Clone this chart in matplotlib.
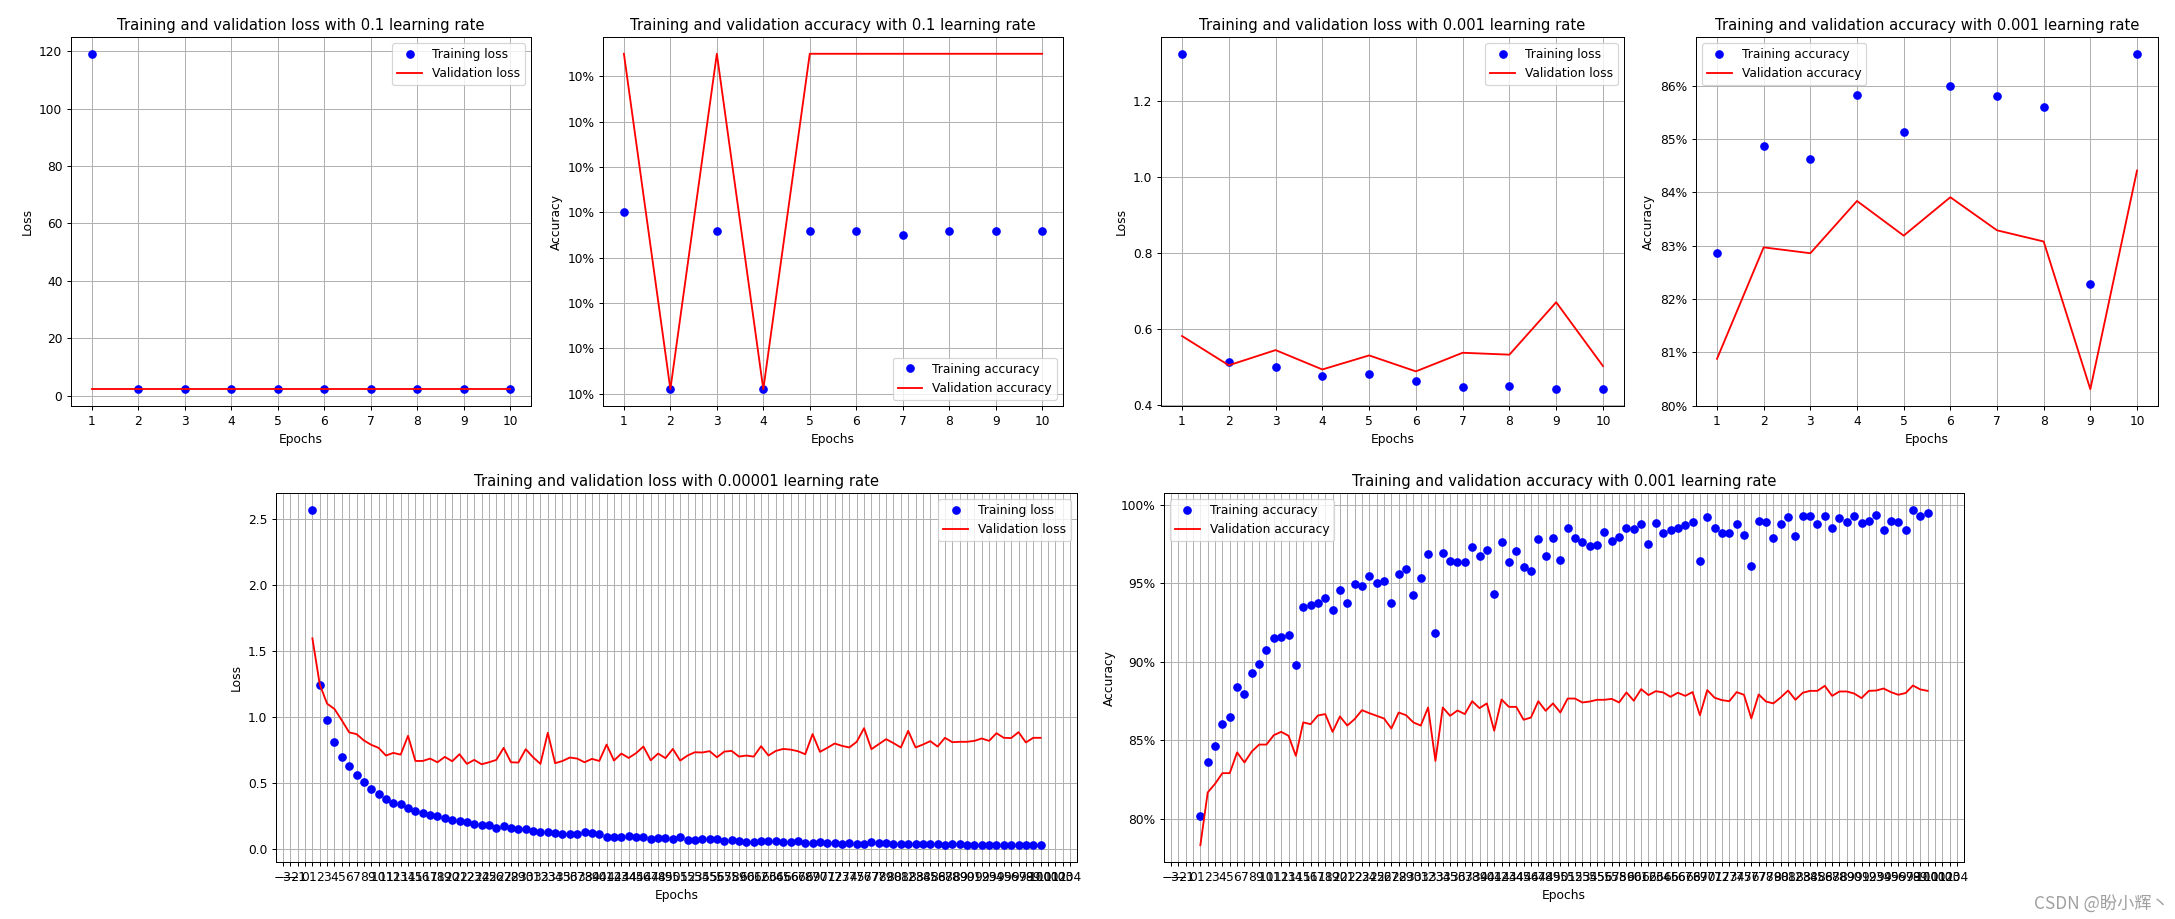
import matplotlib.pyplot as plt
import matplotlib.ticker as mtick

# data
epochs10 = list(range(1, 11))
epochs100 = list(range(1, 101))

# lr = 0.1
loss_01_train = [119.06, 2.31, 2.31, 2.31, 2.31, 2.31, 2.31, 2.31, 2.31, 2.31]
loss_01_val = [2.31, 2.31, 2.31, 2.31, 2.31, 2.31, 2.31, 2.31, 2.31, 2.31]
acc_01_train = [0.09940, 0.09862, 0.09932, 0.09862, 0.09932,
                0.09932, 0.09930, 0.09932, 0.09932, 0.09932]
acc_01_val = [0.10010, 0.09862, 0.10010, 0.09862, 0.10010,
              0.10010, 0.10010, 0.10010, 0.10010, 0.10010]

# lr = 0.001 (10 epochs)
loss_001_train = [1.324, 0.513, 0.499, 0.475, 0.480, 0.463, 0.448, 0.450, 0.441, 0.441]
loss_001_val = [0.581, 0.504, 0.544, 0.493, 0.530, 0.488, 0.537, 0.532, 0.670, 0.502]
acc_001_train = [0.8286, 0.8488, 0.8462, 0.8582, 0.8513,
                 0.8600, 0.8580, 0.8561, 0.8228, 0.8660]
acc_001_val = [0.8088, 0.8297, 0.8286, 0.8384, 0.8319,
               0.8391, 0.8329, 0.8308, 0.8031, 0.8441]

# lr = 0.00001 (100 epochs)
loss_100_train = [
    2.567, 1.243, 0.977, 0.808, 0.701, 0.628, 0.559, 0.506, 0.458, 0.418,
    0.377, 0.354, 0.339, 0.314, 0.291, 0.276, 0.263, 0.251, 0.238, 0.223,
    0.213, 0.210, 0.195, 0.187, 0.187, 0.165, 0.177, 0.165, 0.154, 0.157,
    0.142, 0.132, 0.134, 0.127, 0.119, 0.119, 0.119, 0.132, 0.124, 0.116,
    0.094, 0.094, 0.094, 0.104, 0.094, 0.094, 0.078, 0.089, 0.089, 0.081,
    0.094, 0.073, 0.071, 0.076, 0.076, 0.076, 0.066, 0.073, 0.063, 0.056,
    0.056, 0.066, 0.061, 0.066, 0.056, 0.058, 0.061, 0.048, 0.051, 0.058,
    0.051, 0.051, 0.041, 0.051, 0.043, 0.043, 0.053, 0.046, 0.045, 0.043,
    0.043, 0.042, 0.038, 0.039, 0.038, 0.042, 0.036, 0.037, 0.037, 0.036,
    0.036, 0.036, 0.035, 0.035, 0.034, 0.032, 0.033, 0.031, 0.031, 0.032,
]
loss_100_val = [
    1.595, 1.246, 1.101, 1.061, 0.975, 0.884, 0.871, 0.823, 0.790, 0.767,
    0.709, 0.729, 0.716, 0.858, 0.668, 0.668, 0.686, 0.658, 0.699, 0.666,
    0.719, 0.646, 0.676, 0.643, 0.658, 0.676, 0.767, 0.658, 0.656, 0.757,
    0.696, 0.646, 0.881, 0.651, 0.668, 0.694, 0.686, 0.658, 0.684, 0.668,
    0.792, 0.671, 0.724, 0.691, 0.727, 0.777, 0.673, 0.724, 0.689, 0.759,
    0.671, 0.709, 0.734, 0.732, 0.742, 0.696, 0.739, 0.744, 0.701, 0.709,
    0.701, 0.780, 0.709, 0.744, 0.759, 0.754, 0.742, 0.719, 0.871, 0.737,
    0.767, 0.800, 0.782, 0.770, 0.813, 0.916, 0.757, 0.795, 0.833, 0.803,
    0.770, 0.896, 0.770, 0.792, 0.818, 0.777, 0.843, 0.810, 0.813, 0.813,
    0.820, 0.838, 0.820, 0.878, 0.843, 0.841, 0.886, 0.808, 0.843, 0.843,
]
acc_100_train = [
    80.15, 83.63, 84.61, 86.01, 86.50, 88.41, 87.96, 89.26, 89.85, 90.76,
    91.49, 91.55, 91.70, 89.79, 93.50, 93.59, 93.76, 94.08, 93.27, 94.56,
    93.76, 94.97, 94.84, 95.48, 94.99, 95.16, 93.76, 95.56, 95.90, 94.25,
    95.35, 96.88, 91.83, 96.90, 96.43, 96.33, 96.37, 97.28, 96.73, 97.11,
    94.31, 97.60, 96.37, 97.05, 96.01, 95.77, 97.83, 96.75, 97.90, 96.50,
    98.51, 97.90, 97.60, 97.39, 97.41, 98.28, 97.71, 97.96, 98.51, 98.45,
    98.77, 97.47, 98.81, 98.20, 98.37, 98.51, 98.70, 98.87, 96.43, 99.24,
    98.51, 98.22, 98.22, 98.77, 98.09, 96.07, 98.98, 98.87, 97.90, 98.77,
    99.24, 98.03, 99.30, 99.30, 98.75, 99.30, 98.49, 99.17, 98.87, 99.30,
    98.81, 98.94, 99.36, 98.39, 98.94, 98.87, 98.39, 99.68, 99.30, 99.45,
]
acc_100_val = [
    78.32, 81.68, 82.23, 82.91, 82.91, 84.23, 83.59, 84.29, 84.73, 84.73,
    85.33, 85.54, 85.29, 84.01, 86.14, 86.03, 86.58, 86.67, 85.54, 86.52,
    85.94, 86.35, 86.92, 86.73, 86.56, 86.39, 85.75, 86.77, 86.60, 86.14,
    85.94, 87.09, 83.69, 87.09, 86.56, 86.90, 86.67, 87.49, 87.05, 87.35,
    85.61, 87.60, 87.13, 87.13, 86.31, 86.45, 87.49, 86.88, 87.35, 86.77,
    87.66, 87.66, 87.41, 87.47, 87.58, 87.58, 87.64, 87.41, 88.05, 87.52,
    88.26, 87.88, 88.13, 88.05, 87.77, 88.03, 87.83, 88.07, 86.60, 88.20,
    87.71, 87.56, 87.49, 88.07, 87.90, 86.39, 87.92, 87.47, 87.35, 87.73,
    88.17, 87.58, 88.03, 88.15, 88.15, 88.47, 87.83, 88.11, 88.11, 87.98,
    87.69, 88.15, 88.17, 88.30, 88.07, 87.90, 88.01, 88.49, 88.24, 88.15,
]
acc_100_train = [v / 100 for v in acc_100_train]
acc_100_val = [v / 100 for v in acc_100_val]

DPI = 88.6
W, H = 2175, 919
fig = plt.figure(figsize=(W / DPI, H / DPI), dpi=DPI)


def box(x0, x1, y0, y1):
    # pixel box -> figure fraction
    return [x0 / W, 1 - y1 / H, (x1 - x0) / W, (y1 - y0) / H]


def draw(rect, x, train, val, kind, title, loc, every_int=False, pct=False):
    ax = fig.add_axes(rect)
    ax.plot(x, train, 'bo', label=f'Training {kind}')
    ax.plot(x, val, 'r', label=f'Validation {kind}')
    ax.set_title(title)
    ax.set_xlabel('Epochs')
    ax.set_ylabel('Loss' if kind == 'loss' else 'Accuracy')
    if every_int:
        ax.xaxis.set_major_locator(mtick.MultipleLocator(1))
    else:
        ax.set_xticks(x)
    if pct:
        ax.yaxis.set_major_formatter(mtick.PercentFormatter(1.0, decimals=0))
    ax.legend(loc=loc)
    ax.grid(True)
    return ax


draw(box(71, 531, 37, 406), epochs10, loss_01_train, loss_01_val, 'loss',
     'Training and validation loss with 0.1 learning rate', 'upper right')
ax2 = draw(box(603, 1063, 37, 406), epochs10, acc_01_train, acc_01_val, 'accuracy',
           'Training and validation accuracy with 0.1 learning rate', 'lower right', pct=True)
ax2.yaxis.set_major_locator(mtick.MultipleLocator(0.0002))
draw(box(1161, 1624, 37, 406), epochs10, loss_001_train, loss_001_val, 'loss',
     'Training and validation loss with 0.001 learning rate', 'upper right')
draw(box(1696, 2158, 37, 406), epochs10, acc_001_train, acc_001_val, 'accuracy',
     'Training and validation accuracy with 0.001 learning rate', 'upper left', pct=True)

draw(box(276, 1077, 493, 862), epochs100, loss_100_train, loss_100_val, 'loss',
     'Training and validation loss with 0.00001 learning rate', 'upper right', every_int=True)
draw(box(1164, 1964, 493, 862), epochs100, acc_100_train, acc_100_val, 'accuracy',
     'Training and validation accuracy with 0.001 learning rate', 'upper left',
     every_int=True, pct=True)

fig.text(0.997, 0.007, 'CSDN @盼小辉丶', ha='right', va='bottom', fontsize=14,
         color='#a0a0a0', family=['Noto Sans CJK SC', 'DejaVu Sans'])

fig.savefig('out.png', dpi=DPI)
